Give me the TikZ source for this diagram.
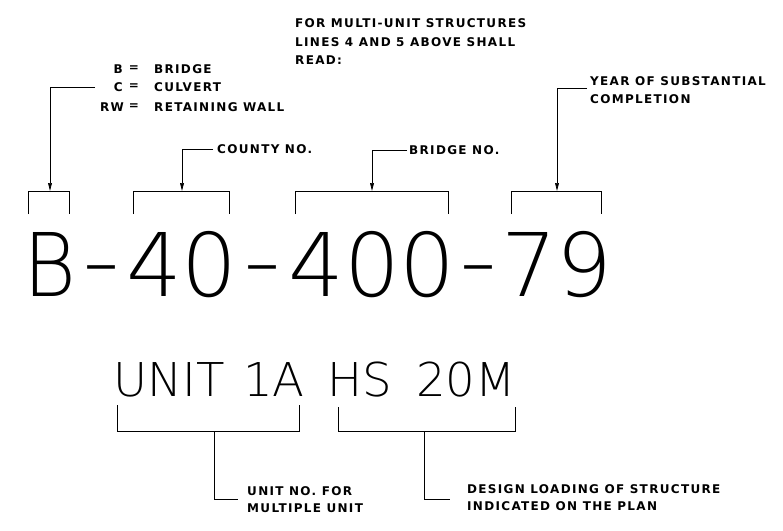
\documentclass[tikz,border=0pt]{standalone}
\usepackage{fontspec}
\usetikzlibrary{arrows.meta}
\newfontfamily\cadbig{DejaVuSans-ExtraLight.ttf}
\newfontfamily\cadsmall{DejaVu Sans}[LetterSpace=11]
\begin{document}
\begin{tikzpicture}[x=1pt,y=-1pt,
  small/.style={font=\cadsmall\bfseries\fontsize{12}{12}\selectfont, inner sep=0pt, anchor=west},
  bigtxt/.style={font=\cadbig\fontsize{87.8}{88}\selectfont, inner sep=0pt, anchor=base},
  midtxt/.style={font=\cadbig\fontsize{46.6}{47}\selectfont, inner sep=0pt, anchor=base},
  brk/.style={line width=0.8pt},
  lead/.style={line width=0.7pt, -{Triangle[length=8pt,width=3.8pt]}},
  stem/.style={line width=0.7pt}]
\useasboundingbox[fill=white] (0,0) rectangle (783,530);

% top note
\node[small] (n1) at (295,23) {FOR MULTI-UNIT STRUCTURES};
\node[small] (n2) at (295,42) {LINES 4 AND 5 ABOVE SHALL};
\node[small] (n3) at (295,60) {READ:};

% legend
\node[small, anchor=east] (kB) at (123,69) {B};
\node[small, anchor=center] (eB) at (134,69) {=};
\node[small] (vB) at (154,69) {BRIDGE};
\node[small, anchor=east] (kC) at (123,87) {C};
\node[small, anchor=center] (eC) at (134,87) {=};
\node[small] (vC) at (154,87) {CULVERT};
\node[small, anchor=east] (kR) at (124,107) {RW};
\node[small, anchor=center] (eR) at (134,107) {=};
\node[small] (vR) at (154,107) {RETAINING WALL};

\node[small] (county) at (217,149) {COUNTY NO.};
\node[small] (bridgeno) at (409,150) {BRIDGE NO.};
\node[small] (year1) at (590,81) {YEAR OF SUBSTANTIAL};
\node[small] (year2) at (590,99) {COMPLETION};

% brackets over the number
\draw[brk] (28,214) -- (28,191) -- (69,191) -- (69,214);
\draw[brk] (133,214) -- (133,191) -- (229,191) -- (229,214);
\draw[brk] (295,214) -- (295,191) -- (448,191) -- (448,214);
\draw[brk] (511,214) -- (511,191) -- (601,191) -- (601,214);
\coordinate (b1top) at (50,191);
\coordinate (b2top) at (182,191);
\coordinate (b3top) at (372,191);
\coordinate (b4top) at (557,191);
\coordinate (legL) at (95,87);
\coordinate (yearL) at (587,88);

\draw[lead] (legL) -| (b1top);
\draw[lead] ([xshift=-4pt]county.west) -| (b2top);
\draw[lead] ([xshift=-2pt]bridgeno.west) -| (b3top);
\draw[lead] (yearL) -| (b4top);

% big number
\node[bigtxt] (g1) at (50,296) {\scalebox{0.92}[1]{B}};
\node[bigtxt] (d1) at (102,291) {\scalebox{1.2}[1]{-}};
\node[bigtxt] (g2) at (182,296) {40};
\node[bigtxt] (d2) at (263,291) {\scalebox{1.2}[1]{-}};
\node[bigtxt] (g3) at (372,296) {400};
\node[bigtxt] (d3) at (479,291) {\scalebox{1.2}[1]{-}};
\node[bigtxt] (g4) at (557,296) {79};

% second line
\node[midtxt] (u1) at (169,396) {UNIT};
\node[midtxt] (u2) at (274,396) {1A};
\node[midtxt] (u3) at (359.5,396) {HS};
\node[midtxt] (u4) at (466,396) {20M};

% bottom brackets
\draw[brk] (117,405) -- (117,431) -- (299,431) -- (299,405);
\draw[brk] (338,407) -- (338,431) -- (515,431) -- (515,407);
\coordinate (lbm) at (214,431);
\coordinate (rbm) at (424,431);
\coordinate (uL) at (238,499);
\coordinate (dL) at (450,499);
\draw[stem] (lbm) |- (uL);
\draw[stem] (rbm) |- (dL);

\node[small] (un1) at (247,491) {UNIT NO. FOR};
\node[small] (un2) at (247,508) {MULTIPLE UNIT};
\node[small] (dl1) at (467,489) {DESIGN LOADING OF STRUCTURE};
\node[small] (dl2) at (467,506) {INDICATED ON THE PLAN};
\end{tikzpicture}
\end{document}
